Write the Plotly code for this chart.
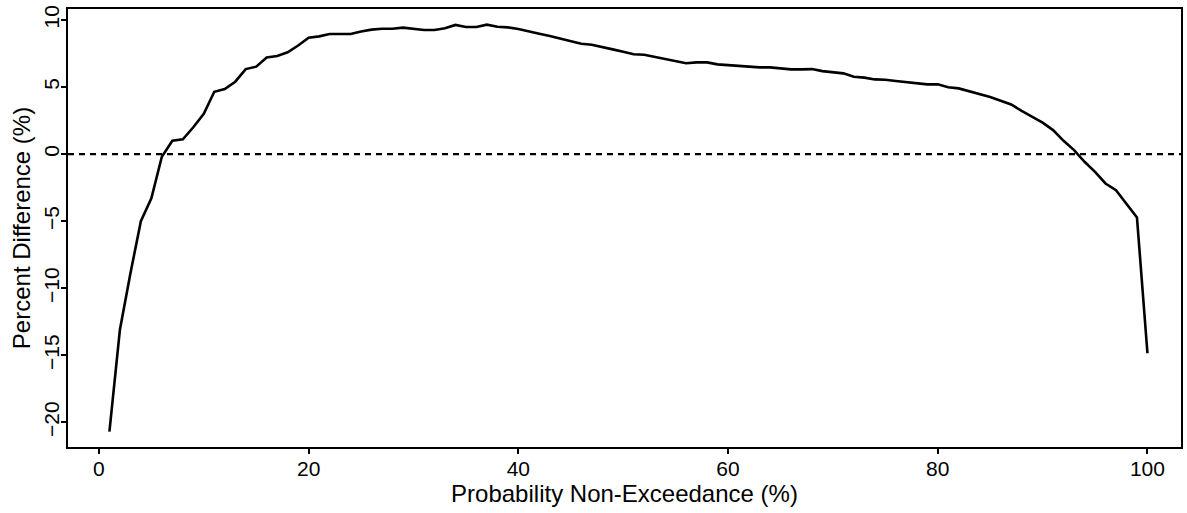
import plotly.graph_objects as go

# Probability of non-exceedance (%) and the percent difference at each level
prob = list(range(1, 101))
pct_diff = [
    -20.7, -13.1, -8.9, -5.0, -3.3, -0.2, 1.0, 1.1, 2.0, 3.0,
    4.65, 4.85, 5.4, 6.34, 6.52, 7.21, 7.31, 7.59, 8.1, 8.68,
    8.78, 8.96, 8.96, 8.96, 9.15, 9.28, 9.35, 9.35, 9.43, 9.36,
    9.25, 9.25, 9.38, 9.63, 9.48, 9.48, 9.65, 9.5, 9.45, 9.33,
    9.18, 8.98, 8.81, 8.61, 8.38, 8.23, 8.16, 7.96, 7.81, 7.63,
    7.44, 7.41, 7.26, 7.11, 6.94, 6.77, 6.84, 6.84, 6.69, 6.64,
    6.57, 6.49, 6.47, 6.47, 6.37, 6.32, 6.32, 6.34, 6.19, 6.1,
    6.02, 5.77, 5.7, 5.57, 5.55, 5.45, 5.37, 5.3, 5.2, 5.2,
    4.98, 4.9, 4.68, 4.48, 4.25, 3.98, 3.7, 3.23, 2.76, 2.34,
    1.79, 0.99, 0.3, -0.57, -1.32, -2.19, -2.69, -3.73, -4.72, -14.85,
]
x_ticks = [0, 20, 40, 60, 80, 100]
y_ticks = [-20, -15, -10, -5, 0, 5, 10]

font = "Liberation Sans, Arial, sans-serif"

fig = go.Figure()
fig.add_trace(go.Scatter(
    x=prob, y=pct_diff, mode="lines",
    line=dict(color="black", width=2.6),
    showlegend=False, hoverinfo="skip",
))

# Zero reference line
fig.add_shape(
    type="line", xref="paper", yref="y", x0=0, x1=1, y0=0, y1=0,
    line=dict(color="black", width=2.4, dash="6px,5px"),
)

axis_common = dict(
    showline=True, linecolor="black", linewidth=2, mirror=True,
    ticks="outside", ticklen=5, tickwidth=2, tickcolor="black",
    showgrid=False, zeroline=False,
    tickfont=dict(family=font, size=21, color="black"),
)

fig.update_layout(
    width=1187, height=513,
    margin=dict(l=68, r=4, t=9, b=66),
    paper_bgcolor="white", plot_bgcolor="white",
    font=dict(family=font, color="black"),
    xaxis=dict(
        range=[-2.95, 103.2], tickvals=x_ticks, ticklabelstandoff=-3,
        title=dict(text="Probability Non-Exceedance (%)",
                   font=dict(family=font, size=24), standoff=0),
        **axis_common,
    ),
    yaxis=dict(
        range=[-21.84, 10.82], tickvals=y_ticks, tickangle=-90,
        ticklabelstandoff=-6,
        title=dict(text="Percent Difference (%)",
                   font=dict(family=font, size=24), standoff=2),
        **axis_common,
    ),
)

fig.write_html("out.html")
